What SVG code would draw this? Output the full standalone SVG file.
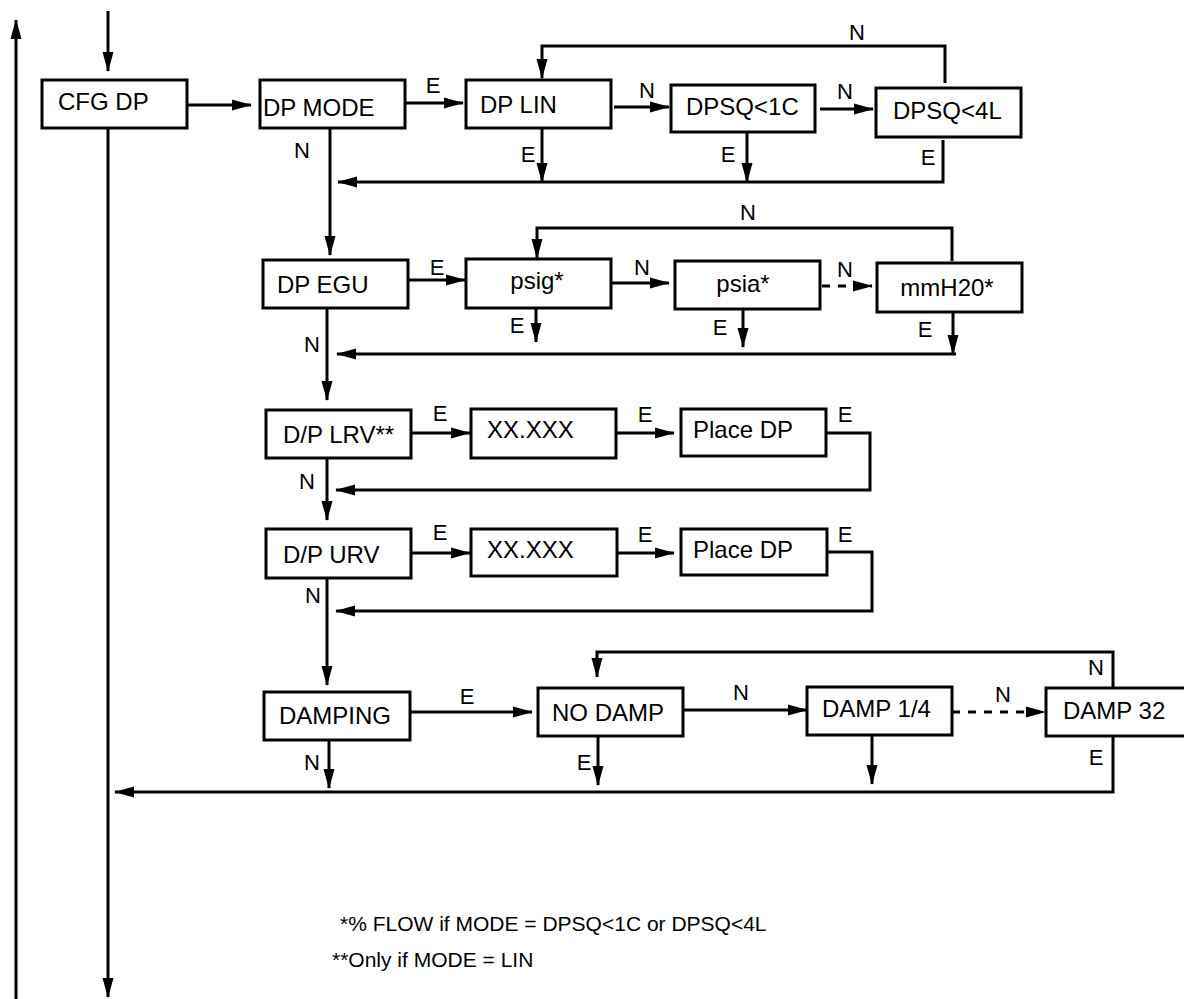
<svg xmlns="http://www.w3.org/2000/svg" width="1184" height="999" viewBox="0 0 1184 999">
<style>
.box{fill:#fff;stroke:#000;stroke-width:3}
.t{font-family:"Liberation Sans",Arial,sans-serif;font-size:24px;fill:#000}
.tm{font-family:"Liberation Sans",Arial,sans-serif;font-size:24px;fill:#000;text-anchor:middle}
.l{font-family:"Liberation Sans",Arial,sans-serif;font-size:22px;fill:#000;text-anchor:middle}
.fn{font-family:"Liberation Sans",Arial,sans-serif;font-size:21px;fill:#000}
.c{fill:none;stroke:#000;stroke-width:3}
.a{marker-end:url(#ah)}
.d{stroke-dasharray:8 8}
</style>
<defs>
<marker id="ah" markerUnits="userSpaceOnUse" markerWidth="20" markerHeight="12" refX="19" refY="5.5" orient="auto" viewBox="0 0 20 11">
<path d="M0,0 L20,5.5 L0,11 z" fill="#000"/>
</marker>
</defs>
<g id="connectors">
<path class="c a" d="M16,999 V20"/>
<path class="c a" d="M108,11 V71"/>
<path class="c a" d="M108,128 V997"/>
<path class="c a" d="M187,105 H251"/>
<path class="c a" d="M330,128 V255"/>
<path class="c a" d="M405,103 H463"/>
<path class="c a" d="M614,107 H669"/>
<path class="c a" d="M820,109 H873"/>
<path class="c a" d="M945,83 V46 H542 V78"/>
<path class="c a" d="M542,128 V182"/>
<path class="c a" d="M747,132 V182"/>
<path class="c a" d="M943,140 V182 H338"/>
<path class="c a" d="M405,280 H465"/>
<path class="c a" d="M952,261 V228 H537 V258"/>
<path class="c a" d="M611,283 H669"/>
<path class="c a d" d="M822,286 H872"/>
<path class="c a" d="M536,308 V342"/>
<path class="c a" d="M743,309 V347"/>
<path class="c a" d="M953,312 V354"/>
<path class="c a" d="M956,354 H337"/>
<path class="c a" d="M327,308 V400"/>
<path class="c a" d="M411,433 H470"/>
<path class="c a" d="M616,433 H674"/>
<path class="c a" d="M826,433 H870 V490 H336"/>
<path class="c a" d="M327,458 V520"/>
<path class="c a" d="M411,553 H470"/>
<path class="c a" d="M617,553 H674"/>
<path class="c a" d="M827,552 H872 V611 H336"/>
<path class="c a" d="M327,578 V685"/>
<path class="c a" d="M410,712 H532"/>
<path class="c a" d="M683,710 H807"/>
<path class="c a d" d="M952,712 H1045"/>
<path class="c a" d="M1113,687 V652 H597 V677"/>
<path class="c a" d="M329,740 V788"/>
<path class="c a" d="M598,736 V785"/>
<path class="c a" d="M872,735 V784"/>
<path class="c a" d="M1113,736 V792 H115"/>
</g>
<g id="labels">
<text class="l" x="433" y="93">E</text>
<text class="l" x="302" y="158">N</text>
<text class="l" x="647" y="98">N</text>
<text class="l" x="845" y="99">N</text>
<text class="l" x="857" y="40">N</text>
<text class="l" x="528" y="162">E</text>
<text class="l" x="728" y="162">E</text>
<text class="l" x="928" y="165">E</text>
<text class="l" x="437" y="275">E</text>
<text class="l" x="748" y="220">N</text>
<text class="l" x="642" y="275">N</text>
<text class="l" x="845" y="277">N</text>
<text class="l" x="517" y="333">E</text>
<text class="l" x="720" y="335">E</text>
<text class="l" x="925" y="337">E</text>
<text class="l" x="312" y="352">N</text>
<text class="l" x="440" y="421">E</text>
<text class="l" x="645" y="422">E</text>
<text class="l" x="845" y="422">E</text>
<text class="l" x="307" y="489">N</text>
<text class="l" x="440" y="540">E</text>
<text class="l" x="645" y="542">E</text>
<text class="l" x="845" y="542">E</text>
<text class="l" x="313" y="603">N</text>
<text class="l" x="467" y="704">E</text>
<text class="l" x="741" y="700">N</text>
<text class="l" x="1003" y="702">N</text>
<text class="l" x="1096" y="675">N</text>
<text class="l" x="312" y="770">N</text>
<text class="l" x="584" y="770">E</text>
<text class="l" x="1096" y="765">E</text>
</g>
<g id="n-cfgdp"><rect class="box" x="42" y="80" width="145" height="48"/><text class="t" x="58" y="110">CFG DP</text></g>
<g id="n-dpmode"><rect class="box" x="260" y="80" width="145" height="48"/><text class="t" x="263" y="116">DP MODE</text></g>
<g id="n-dplin"><rect class="box" x="466" y="80" width="145" height="48"/><text class="t" x="480" y="113">DP LIN</text></g>
<g id="n-dpsq1c"><rect class="box" x="671" y="85" width="144" height="47"/><text class="t" x="686" y="115">DPSQ&lt;1C</text></g>
<g id="n-dpsq4l"><rect class="box" x="876" y="88" width="145" height="49"/><text class="t" x="893" y="119">DPSQ&lt;4L</text></g>
<g id="n-dpegu"><rect class="box" x="263" y="260" width="145" height="48"/><text class="t" x="277" y="293">DP EGU</text></g>
<g id="n-psig"><rect class="box" x="466" y="259" width="145" height="49"/><text class="tm" x="537" y="289">psig*</text></g>
<g id="n-psia"><rect class="box" x="675" y="261" width="145" height="48"/><text class="tm" x="743" y="292">psia*</text></g>
<g id="n-mmh20"><rect class="box" x="877" y="263" width="145" height="49"/><text class="tm" x="947" y="296">mmH20*</text></g>
<g id="n-lrv"><rect class="box" x="266" y="410" width="145" height="48"/><text class="t" x="283" y="443">D/P LRV**</text></g>
<g id="n-xx1"><rect class="box" x="471" y="409" width="145" height="49"/><text class="t" x="487" y="438">XX.XXX</text></g>
<g id="n-place1"><rect class="box" x="681" y="409" width="145" height="47"/><text class="t" x="693" y="438">Place DP</text></g>
<g id="n-urv"><rect class="box" x="266" y="529" width="145" height="49"/><text class="t" x="283" y="563">D/P URV</text></g>
<g id="n-xx2"><rect class="box" x="471" y="529" width="146" height="47"/><text class="t" x="487" y="558">XX.XXX</text></g>
<g id="n-place2"><rect class="box" x="681" y="529" width="146" height="46"/><text class="t" x="693" y="558">Place DP</text></g>
<g id="n-damping"><rect class="box" x="264" y="692" width="146" height="48"/><text class="t" x="279" y="724">DAMPING</text></g>
<g id="n-nodamp"><rect class="box" x="538" y="688" width="145" height="48"/><text class="t" x="552" y="721">NO DAMP</text></g>
<g id="n-damp14"><rect class="box" x="807" y="687" width="145" height="48"/><text class="t" x="822" y="717">DAMP 1/4</text></g>
<g id="n-damp32"><rect class="box" x="1046" y="688" width="145" height="48"/><text class="t" x="1063" y="719">DAMP 32</text></g>
<g id="notes">
<text class="fn" x="340" y="931">*% FLOW if MODE = DPSQ&lt;1C or DPSQ&lt;4L</text>
<text class="fn" x="332" y="967">**Only if MODE = LIN</text>
</g>
</svg>
